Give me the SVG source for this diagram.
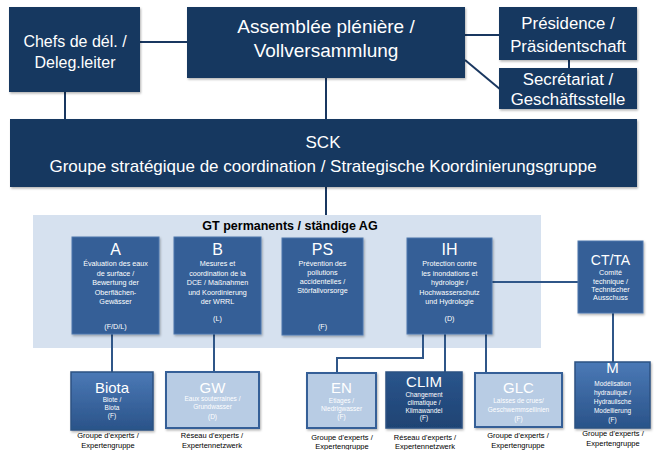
<svg xmlns="http://www.w3.org/2000/svg" width="654" height="450" viewBox="0 0 654 450">
<defs>
<filter id="sh" x="-10%" y="-10%" width="130%" height="130%"><feDropShadow dx="1" dy="1.5" stdDeviation="1" flood-color="#000" flood-opacity="0.3"/></filter>
<linearGradient id="gd" x1="0" y1="0" x2="0" y2="1"><stop offset="0" stop-color="#4b79b6"/><stop offset="1" stop-color="#2a5389"/></linearGradient>
<linearGradient id="gn" x1="0" y1="0" x2="0" y2="1"><stop offset="0" stop-color="#2a558c"/><stop offset="1" stop-color="#1f4373"/></linearGradient>
</defs>
<style>
text{font-family:"Liberation Sans",Arial,sans-serif;fill:#fff;text-anchor:middle}
.top{fill:#193760;filter:url(#sh)}
.mid{fill:#345f97;stroke:#4f79ad;stroke-width:1;filter:url(#sh)}
.lt{fill:#b8cce4;stroke:#345f97;stroke-width:2;filter:url(#sh)}
.dk{stroke:#2c5282;stroke-width:1.5;filter:url(#sh)}
.cn{stroke:#193760;stroke-width:2;fill:none}
.cm{stroke:#2f5688;stroke-width:2;fill:none}
.t1{font-size:16px}
.t2{font-size:7.2px}
.tt{font-size:15px}
.tp{font-size:16.8px}
.ts{font-size:6.5px}
.lab{font-size:7.5px;fill:#000}
</style>
<rect x="33" y="215" width="508" height="133" fill="#d6e1ef"/>
<text x="290" y="230" style="font-size:12.5px;font-weight:bold;fill:#000">GT permanents / ständige AG</text>
<g id="connectors">
<line class="cn" x1="140" y1="42" x2="187" y2="42"/>
<line class="cn" x1="465" y1="35" x2="499" y2="35"/>
<line class="cn" x1="569" y1="60" x2="569" y2="68"/>
<line class="cn" x1="465" y1="60" x2="501" y2="90"/>
<line class="cn" x1="65" y1="92" x2="65" y2="119"/>
<line class="cn" x1="326" y1="78" x2="326" y2="119"/>
<line class="cn" x1="326" y1="187" x2="326" y2="215"/>
<line class="cm" x1="112" y1="334" x2="112" y2="372"/>
<line class="cm" x1="214" y1="334" x2="214" y2="372"/>
<path class="cm" d="M423,334 V358 H337 V373"/>
<line class="cm" x1="445" y1="334" x2="445" y2="372"/>
<line class="cm" x1="486" y1="334" x2="486" y2="373"/>
<line class="cm" x1="492" y1="282" x2="578" y2="282"/>
<line class="cm" x1="613" y1="313" x2="613" y2="362"/>
</g>
<g id="chefs"><rect class="top" x="9" y="7" width="131" height="85"/><text class="t1" x="75" y="47">Chefs de dél. /</text><text class="t1" x="75" y="68">Deleg.leiter</text></g>
<g id="assemblee"><rect class="top" x="187" y="7" width="278" height="71"/><text x="326" y="33" style="font-size:19px">Assemblée plénière /</text><text x="326" y="57" style="font-size:19px">Vollversammlung</text></g>
<g id="presidence"><rect class="top" x="499" y="7" width="138" height="53"/><text class="tp" x="568" y="29">Présidence /</text><text class="tp" x="568" y="52">Präsidentschaft</text></g>
<g id="secretariat"><rect class="top" x="499" y="68" width="138" height="41"/><text class="tp" x="568" y="85">Secrétariat /</text><text class="tp" x="568" y="105">Geschäftsstelle</text></g>
<g id="sck"><rect class="top" x="10" y="119" width="627" height="68"/><text x="323" y="148" style="font-size:17px">SCK</text><text x="323" y="172" style="font-size:17px">Groupe stratégique de coordination / Strategische Koordinierungsgruppe</text></g>
<g id="gtA"><rect class="mid" x="72" y="237" width="87" height="97"/><text x="115.5" y="255" style="font-size:16px">A</text>
<text class="t2" x="115.5" y="266">Évaluation des eaux</text><text class="t2" x="115.5" y="275.5">de surface /</text><text class="t2" x="115.5" y="285">Bewertung der</text><text class="t2" x="115.5" y="294.5">Oberflächen-</text><text class="t2" x="115.5" y="304">Gewässer</text><text class="t2" x="115.5" y="329">(F/D/L)</text></g>
<g id="gtB"><rect class="mid" x="174" y="237" width="87" height="97"/><text x="217.5" y="255" style="font-size:16px">B</text>
<text class="t2" x="217.5" y="266">Mesures et</text><text class="t2" x="217.5" y="275.5">coordination de la</text><text class="t2" x="217.5" y="285">DCE  / Maßnahmen</text><text class="t2" x="217.5" y="294.5">und Koordinierung</text><text class="t2" x="217.5" y="304">der WRRL</text><text class="t2" x="217.5" y="321">(L)</text></g>
<g id="gtPS"><rect class="mid" x="282" y="238" width="81" height="97"/><text x="322.5" y="255" style="font-size:16px">PS</text>
<text class="t2" x="322.5" y="266">Prévention des</text><text class="t2" x="322.5" y="275">pollutions</text><text class="t2" x="322.5" y="284">accidentelles /</text><text class="t2" x="322.5" y="293">Störfallvorsorge</text><text class="t2" x="322.5" y="329">(F)</text></g>
<g id="gtIH"><rect class="mid" x="407" y="238" width="85" height="96"/><text x="449.5" y="255" style="font-size:16px">IH</text>
<text class="t2" x="449.5" y="266">Protection contre</text><text class="t2" x="449.5" y="275.5">les inondations et</text><text class="t2" x="449.5" y="285">hydrologie /</text><text class="t2" x="449.5" y="294.5">Hochwasserschutz</text><text class="t2" x="449.5" y="304">und Hydrologie</text><text class="t2" x="449.5" y="321">(D)</text></g>
<g id="ctta"><rect class="mid" x="578" y="241" width="65" height="72"/><text x="610.5" y="265" style="font-size:14px">CT/TA</text>
<text class="t2" x="610.5" y="275">Comité</text><text class="t2" x="610.5" y="284">technique /</text><text class="t2" x="610.5" y="292">Technischer</text><text class="t2" x="610.5" y="300">Ausschuss</text></g>
<g id="biota"><rect class="dk" x="71" y="372" width="82" height="58" fill="url(#gd)"/><text class="tt" x="112" y="393">Biota</text>
<text class="ts" x="112" y="402">Biote /</text><text class="ts" x="112" y="410">Biota</text><text class="ts" x="112" y="418">(F)</text>
<text class="lab" x="108" y="438">Groupe d'experts /</text><text class="lab" x="108" y="448">Expertengruppe</text></g>
<g id="gw"><rect class="lt" x="166" y="372" width="93" height="56"/><text class="tt" x="212.5" y="393">GW</text>
<text class="ts" x="212.5" y="401">Eaux souterraines /</text><text class="ts" x="212.5" y="409">Grundwasser</text><text class="ts" x="212.5" y="419">(D)</text>
<text class="lab" x="212" y="438">Réseau d'experts /</text><text class="lab" x="212" y="448">Expertennetzwerk</text></g>
<g id="en"><rect class="lt" x="307" y="373" width="69" height="55"/><text class="tt" x="341.5" y="393">EN</text>
<text class="ts" x="341.5" y="403">Etiages /</text><text class="ts" x="341.5" y="411">Niedrigwasser</text><text class="ts" x="341.5" y="419">(F)</text>
<text class="lab" x="342" y="440">Groupe d'experts /</text><text class="lab" x="342" y="449">Expertengruppe</text></g>
<g id="clim"><rect class="dk" x="386" y="372" width="76" height="56" fill="url(#gn)"/><text class="tt" x="424" y="387">CLIM</text>
<text class="ts" x="424" y="397">Changement</text><text class="ts" x="424" y="405">climatique /</text><text class="ts" x="424" y="412.5">Klimawandel</text><text class="ts" x="424" y="420">(F)</text>
<text class="lab" x="425" y="440">Réseau d'experts /</text><text class="lab" x="425" y="449">Expertennetzwerk</text></g>
<g id="glc"><rect class="lt" x="475" y="373" width="87" height="54"/><text class="tt" x="518.5" y="393">GLC</text>
<text class="ts" x="518.5" y="403">Laisses de crues/</text><text class="ts" x="518.5" y="412">Geschwemmsellinien</text><text class="ts" x="518.5" y="421">(F)</text>
<text class="lab" x="518" y="438">Groupe d'experts  /</text><text class="lab" x="518" y="448">Expertengruppe</text></g>
<g id="m"><rect class="dk" x="575" y="362" width="75" height="66" fill="url(#gd)"/><text class="tt" x="612.5" y="373">M</text>
<text class="ts" x="612.5" y="386">Modélisation</text><text class="ts" x="612.5" y="395">hydraulique /</text><text class="ts" x="612.5" y="404">Hydraulische</text><text class="ts" x="612.5" y="413">Modellierung</text><text class="ts" x="612.5" y="422">(F)</text>
<text class="lab" x="613" y="436">Groupe d'experts /</text><text class="lab" x="613" y="446">Expertengruppe</text></g>
</svg>
